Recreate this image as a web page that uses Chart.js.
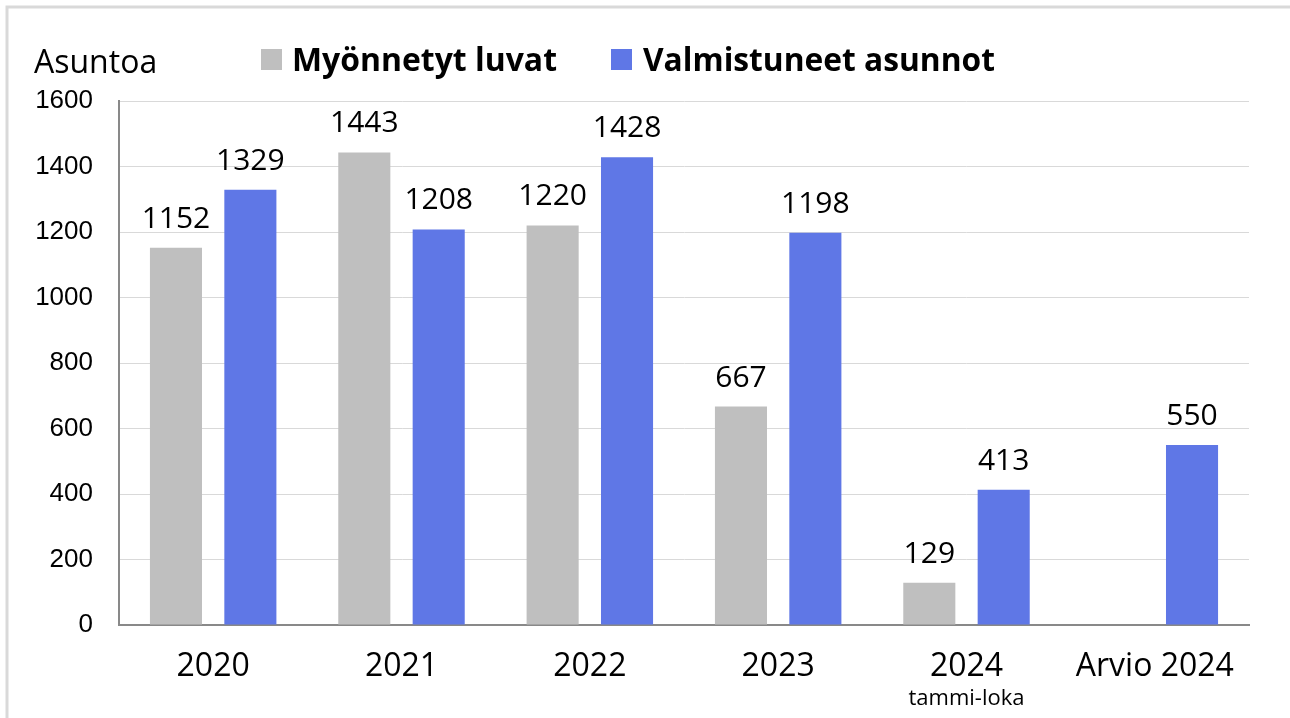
<!DOCTYPE html>
<html>
<head>
<meta charset="utf-8">
<script src="https://cdn.jsdelivr.net/npm/chart.js@4.4.1/dist/chart.umd.min.js"></script>
<style>
  html, body { margin: 0; padding: 0; background: #fff; }
  canvas { display: block; }
</style>
</head>
<body>
<canvas id="myChart" width="1290" height="718"></canvas>
<script>
// Data
const categories = ['2020', '2021', '2022', '2023', '2024', 'Arvio 2024'];
const permits = [1152, 1443, 1220, 667, 129, null];
const completed = [1329, 1208, 1428, 1198, 413, 550];
const seriesNames = ['Myönnetyt luvat', 'Valmistuneet asunnot'];
const yMin = 0, yMax = 1600, yStep = 200;

const grayCol = '#bfbfbf';
const blueCol = '#5f77e6';
const labelFont = '"Open Sans", "Noto Sans", sans-serif';

// Frame, axis title, legend, value labels
const extras = {
    id: 'extras',
    afterDatasetsDraw(chart) {
        const ctx = chart.ctx;
        ctx.save();
        ctx.fillStyle = '#000';
        ctx.font = '30px ' + labelFont;
        ctx.textAlign = 'center';
        ctx.textBaseline = 'alphabetic';
        chart.data.datasets.forEach((ds, i) => {
            chart.getDatasetMeta(i).data.forEach((bar, j) => {
                if (ds.data[j] == null) return;
                ctx.fillText(String(ds.data[j]), bar.x, bar.y - 20);
            });
        });
        ctx.restore();
    },
    afterDraw(chart) {
        const ctx = chart.ctx;
        ctx.save();
        // frame
        ctx.strokeStyle = '#d9d9d9';
        ctx.lineWidth = 3;
        ctx.beginPath();
        ctx.moveTo(7, 718);
        ctx.lineTo(7, 7);
        ctx.lineTo(1290, 7);
        ctx.stroke();

        // axis title
        ctx.fillStyle = '#000';
        ctx.textAlign = 'left';
        ctx.textBaseline = 'alphabetic';
        ctx.font = '32px ' + labelFont;
        ctx.fillText('Asuntoa', 34, 73, 126);

        // legend
        const boxes = [[261, grayCol, 292, 265], [611, blueCol, 643, 352]];
        ctx.font = 'bold 32px ' + labelFont;
        boxes.forEach((b, i) => {
            ctx.fillStyle = b[1];
            ctx.fillRect(b[0], 49, 21, 21);
            ctx.fillStyle = '#000';
            ctx.fillText(seriesNames[i], b[2], 71, b[3]);
        });

        // sub label under 2024
        const xs = chart.scales.x;
        ctx.textAlign = 'center';
        ctx.font = '22px ' + labelFont;
        ctx.fillText('tammi-loka', xs.getPixelForValue(4), 705);
        ctx.restore();
    }
};

const ctx = document.getElementById('myChart');
const myChart = new Chart(ctx, {
    type: 'bar',
    data: {
        labels: categories,
        datasets: [
            { label: seriesNames[0], data: permits, backgroundColor: grayCol },
            { label: seriesNames[1], data: completed, backgroundColor: blueCol }
        ]
    },
    options: {
        responsive: false,
        devicePixelRatio: 1,
        animation: false,
        categoryPercentage: 0.79,
        barPercentage: 0.70,
        layout: { padding: { top: 101, right: 41, bottom: 0, left: 0 } },
        plugins: {
            legend: { display: false },
            tooltip: { enabled: false }
        },
        scales: {
            x: {
                grid: { display: false },
                border: { color: '#898989', width: 2 },
                ticks: {
                    color: '#000',
                    font: { family: labelFont, size: 32 },
                    padding: 15,
                    maxRotation: 0,
                    autoSkip: false
                },
                afterFit(s) { s.height = 93; }
            },
            y: {
                min: yMin,
                max: yMax,
                grid: { color: '#d9d9d9', lineWidth: 1, drawTicks: false },
                border: { color: '#898989', width: 2 },
                ticks: {
                    stepSize: yStep,
                    color: '#000',
                    font: { family: '"Liberation Sans", Arial, sans-serif', size: 26 },
                    padding: 26,
                    callback: v => String(v)
                },
                afterFit(s) { s.width = 119; }
            }
        }
    },
    plugins: [extras]
});
</script>
</body>
</html>
